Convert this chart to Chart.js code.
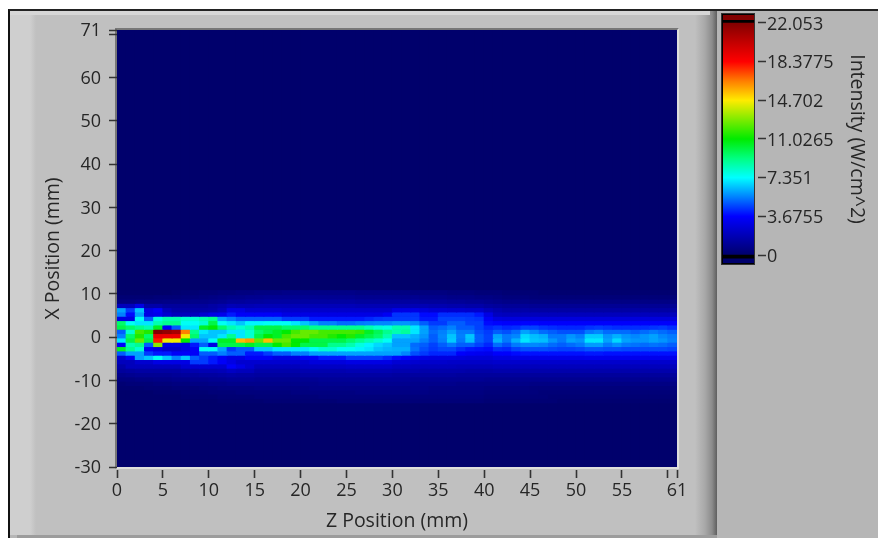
<!DOCTYPE html>
<html><head><meta charset="utf-8">
<script src="https://cdn.jsdelivr.net/npm/chart.js@4"></script>
<style>
html,body{margin:0;padding:0;background:#fff;overflow:hidden}
#wrap{position:relative;width:878px;height:538px;overflow:hidden;background:#fff}
.p{position:absolute}
canvas{position:absolute;left:0;top:0;filter:blur(.45px)}
</style></head><body>
<div id="wrap">
<div class="p" style="left:8px;top:9px;width:870px;height:529px;background:#b6b6b6;border-left:2px solid #111;border-top:2px solid #222;box-sizing:border-box"></div>
<div class="p" style="left:10px;top:11px;width:707px;height:524px;background:linear-gradient(90deg,#cfcfcf 0,#cfcfcf 20px,#c0c0c0 26px,#c0c0c0 685px,#a8a8a8 695px,#8c8c8c 702px,#5f5f5f 707px)"></div>
<div class="p" style="left:10px;top:11px;width:700px;height:4px;background:#d6d6d6"></div>
<div class="p" style="left:17px;top:535px;width:700px;height:3px;background:#9c9c9c"></div>
<div class="p" style="left:115px;top:28px;width:564px;height:441px;box-sizing:border-box;border:2px solid;border-color:#777 #ddd #ddd #777"></div>
<div class="p" style="left:721px;top:13px;width:34px;height:252px;box-sizing:border-box;background:#000;border:1px solid #333"></div>
<canvas id="main" width="878" height="538"></canvas>
<canvas id="bar" width="878" height="538"></canvas>
</div>
<script>
const zCount = 61;
const zTicks = [0,5,10,15,20,25,30,35,40,45,50,55,60,61];
const xTicks = [71,70,60,50,40,30,20,10,0,-10,-20,-30];
const scaleTicks = [22.053,18.3775,14.702,11.0265,7.351,3.6755,0];
const stopValues = [0,3.6755,5.5,7.351,9.2,11.0265,12.9,14.702,16.5,18.3775,20.2,22.053];
const stopColors = [[0,0,108],[0,0,255],[0,128,255],[0,255,255],[0,255,128],[0,235,0],[128,235,0],[255,235,0],[255,128,0],[255,0,0],[195,0,0],[130,0,0]];

const rowP10=[0,0,0,0,0,0,.1,.2,.2,.3,.3,.4,.4,.5,.5,.6,.6,.6,.7,.7,.7,.7,.7,.7,.7,.7,.6,.6,.6,.6,.6,.6,.5,.5,.5,.5,.4,.4,.4,.3,.3,.3,.2,.2,.2,.2,.1,.1,.1,.1,.1,.1,.1,.1,.1,.1,.1,.1,.1,.1,.1];
const rowP9=[.2,.2,.2,.2,.3,.3,.3,.4,.4,.5,.6,.7,.8,.8,.9,.9,1,1,1,1,1,1,1,1,1,1,.9,.9,.9,.9,.9,.9,.9,.8,.8,.8,.7,.7,.7,.6,.6,.5,.4,.4,.4,.3,.3,.3,.3,.3,.3,.3,.3,.3,.3,.3,.3,.3,.3,.3,.3];
const rowP8=[.5,.5,.6,.6,.6,.7,.7,.7,.8,.8,.9,1,1.2,1.2,1.3,1.3,1.4,1.4,1.4,1.4,1.4,1.4,1.4,1.4,1.4,1.4,1.3,1.3,1.3,1.3,1.3,1.3,1.3,1.2,1.2,1.2,1.1,1.1,1,1,.9,.8,.7,.7,.7,.6,.6,.6,.6,.6,.6,.6,.6,.6,.6,.6,.6,.6,.6,.6,.6];
const rowP7=[2,2,3,1.5,1.5,1.2,1.2,1.2,1.2,1.2,1.4,1.6,1.9,1.8,1.8,1.9,1.9,1.9,1.9,1.9,1.9,1.9,1.9,1.9,1.9,1.9,1.8,1.8,1.8,1.8,1.8,1.8,1.8,1.8,1.7,1.7,1.6,1.6,1.5,1.5,1.3,1.2,1.1,1.1,1.1,1,1,1,1,1,1,1,1,1,1,1,1,1,1,1,1];
const rowP6=[6,4.5,6.5,3,3.5,2,1.5,1.5,1.5,1.5,1.6,2,3,3,2.5,2.5,2.5,2.5,2.4,2.4,2.4,2.4,2.4,2.4,2.4,2.4,2.4,2.4,2.4,2.4,3,3,3,2.8,2.6,2.6,2.5,2.5,2.4,2.4,2,1.7,1.5,1.5,1.5,1.4,1.4,1.4,1.4,1.4,1.4,1.4,1.4,1.4,1.4,1.4,1.4,1.4,1.4,1.4,1.4];
const rowP5=[5.5,3.8,6,3,3.2,2.5,2,2,2,2.5,3,3.2,4,3.5,3.5,3.5,3.5,3.5,3,3,3,3,3,3,3,3,3,3,3,3.4,4.4,4.4,4.4,3.8,3.8,4.3,4.3,4.3,4.3,4,3,2.1,2,2,2,2,2,2,2,2,2,2,2,2,2,2,2,2,2,2,2];
const rowP4=[3,3,7.5,5,7.8,8.5,8.5,8,8,8.5,9,6,5.5,5,5,5,5,5,4.5,4.5,4.5,4,4,4,4,4,4,4.2,4.4,4.5,4.5,4.5,4.5,4,4,4.6,4.6,4.6,4.5,4.4,3.5,2.9,2.8,2.8,2.8,2.8,2.8,2.8,2.8,2.8,2.8,2.8,2.8,2.8,2.8,2.8,2.8,2.8,2.8,2.8,2.8];
const rowP3=[9.5,7.5,7,7,8.5,9,9,7.5,7.5,8,10,7.5,7,6.5,7.2,7.2,7.5,7.5,7.5,7,6.5,6,5.5,5.5,5.2,5.2,5.4,5.5,5.6,5.6,5.8,5.8,5.6,5,4.5,4.5,5,5,4.6,4.6,3.8,3.7,3.6,3.6,3.7,3.7,3.6,3.6,3.6,3.6,3.6,3.6,3.6,3.6,3.6,3.6,3.6,3.6,3.6,3.6,3.6];
const rowP2=[10,9.5,9,8.5,10.5,3.5,5,7,7,10.5,11,9.5,8.5,8,8.5,10,10,10,9.5,9.5,9.5,9,9,9,9,9,9,8.5,8,7.8,8.5,8.5,7,6,5,5.2,5.5,5,5,4.6,4.2,4.4,4.2,4.3,4.6,4.6,4.4,4.3,4.2,4.2,4.2,4.4,4.5,4.4,4.3,4.3,4.3,4.3,4.4,4.5,4.3];
const rowP1=[5,8,12,11.5,22,21.5,21,16.5,9,7,6.5,6.5,7,7,8,9.5,10,10.5,11,12,12.5,12.5,12,12,12,12,11.8,10.5,9.8,9,8.5,8.8,7,6,5.2,5.5,6,5.4,5.4,4.8,4.5,5,4.8,5.2,6,5.6,5.2,5,4.8,4.8,4.8,5.4,5.6,5.2,5.2,5.2,5,5.2,5.4,5.2,5];
const rowP0=[5.5,9.5,11.5,9.5,19,19,19,14.5,9.5,6.5,6.5,7,9,7,8,10,11,10.5,12,12.5,12.5,12,12,11.5,11,11.5,10.5,10,9.5,8.5,6.5,6.5,6.2,5.8,5,5.6,6.5,5.5,6.5,5,4.6,6,5.4,5.6,6.8,6.4,6.2,5.4,5.4,5.8,5.5,6.6,6.6,5.8,6.2,5.8,5.6,5.8,6,5.6,5.4];
const rowM1=[7,10,12.5,10,18,14.5,14.5,11,6,6,7.5,10.5,10.5,15.5,16,12.5,15.5,12.5,12.5,11,11,10,10,10,10,9.5,9,8.5,8,7.5,6,6,6,5.5,5,5.5,6.6,5.4,6.4,5,4.6,6.2,5.4,6.2,7,6.5,6.4,5.8,5.4,6,5.8,7,7,6,6.8,6,5.8,5.8,6,5.8,5.5];
const rowM2=[3.5,8.5,9,5,13,3,3,3,4,5,3,10,10,10,10.5,10,10,11,12,11,10,10,10,9,9,8.5,7.8,7.2,6.8,6.5,6,6,5.2,5,4.6,5,5.4,5,5,4.6,4.2,5.2,4.8,5.4,5.6,5.6,5.5,5.2,5,5.2,5.4,5.9,5.9,5.4,5.7,5.4,5.3,5.2,5.3,5.2,5];
const rowM3=[10.5,9,8,3.5,3,2.5,2.5,3,3.5,7.5,7.5,6,4.5,5,5,6.5,6.5,7,7,7,7,7.5,8,8,7.5,7.5,7.2,7,6.5,6.3,6.2,6.2,5.3,4.8,4.5,4.7,4.7,4.3,4,3.9,3.8,4.3,4.2,4.6,4.8,4.8,4.8,4.7,4.6,4.6,4.7,4.9,4.9,4.8,4.8,4.7,4.7,4.7,4.7,4.7,4.6];
const rowM4=[5,6,6,4.5,4,4,3.5,3.5,3.5,5,5,5.5,5,5,4,4,4.5,5,5,5.5,5.5,6,6,6,6,6,6,6,6,6,6,5.6,4.8,4.5,4.2,4.2,4.2,3.6,3.4,3.3,3.2,3.6,3.6,3.8,3.9,3.9,3.9,3.9,3.9,3.9,3.9,4,4,3.9,3.9,3.9,3.9,3.9,3.9,3.9,3.9];
const rowM5=[2.5,3.5,6,6.5,7.5,6.5,5.5,6.5,5,4.5,4,3.5,3,3,3.5,3.5,3.5,3,3,3,3.5,3.5,4,4,4,4.5,4.5,4.5,4.5,4.2,3.8,3.6,3.2,3,2.9,2.9,2.9,2.8,2.7,2.7,2.7,2.9,2.9,3,3,3.1,3.1,3.1,3.1,3.1,3.1,3.2,3.2,3.2,3.2,3.2,3.2,3.2,3.2,3.2,3.2];
const rowM6=[2,2,2.5,2.5,3,3,3,3,4.5,4.5,4,3.5,3,2.5,2.5,2.5,2.5,2.5,2.5,2.5,2.5,2.8,2.8,2.8,2.8,3,3,3,3,3,2.6,2.6,2.5,2.4,2.4,2.4,2.3,2.3,2.3,2.3,2.3,2.4,2.4,2.4,2.4,2.4,2.4,2.4,2.4,2.4,2.4,2.4,2.4,2.4,2.4,2.4,2.4,2.4,2.4,2.4,2.4];
const rowM7=[1.5,2,2,2,2,2,2,2.5,2.5,2.5,2.5,2.5,3.5,3,2.5,2,2,2,2,2,2.2,2.2,2.2,2.2,2.2,2.3,2.3,2.3,2.3,2.3,2.1,2.1,2,2,2,2,2,1.9,1.9,1.9,1.9,2,2,2,2,2,2,2,2,2,2,2,2,2,2,2,2,2,2,2,2];
const rowM8=[1.2,1.3,1.4,1.4,1.4,1.4,1.4,1.6,1.7,1.8,1.8,1.9,2.2,2,2,1.6,1.6,1.6,1.6,1.6,1.7,1.7,1.7,1.7,1.7,1.8,1.8,1.8,1.8,1.8,1.7,1.7,1.7,1.6,1.6,1.6,1.6,1.6,1.5,1.5,1.5,1.6,1.6,1.6,1.6,1.6,1.6,1.6,1.6,1.6,1.6,1.6,1.6,1.6,1.6,1.6,1.6,1.6,1.6,1.6,1.6];
const rowM9=[.8,.9,1,1,1,1,1.1,1.2,1.2,1.3,1.3,1.4,1.5,1.4,1.4,1.3,1.3,1.3,1.3,1.3,1.4,1.4,1.4,1.4,1.4,1.4,1.4,1.4,1.4,1.4,1.3,1.3,1.3,1.3,1.3,1.3,1.3,1.2,1.2,1.2,1.2,1.2,1.2,1.2,1.2,1.2,1.2,1.2,1.2,1.2,1.2,1.2,1.2,1.2,1.2,1.2,1.2,1.2,1.2,1.2,1.2];
const rowM10=[.5,.5,.6,.6,.7,.7,.8,.8,.9,.9,1,1,1.1,1.1,1.1,1,1,1,1,1,1,1,1.1,1.1,1.1,1.1,1.1,1.1,1.1,1.1,1.1,1.1,1,1,1,1,1,1,1,1,.9,.9,.9,.9,.9,.9,.9,.9,.9,.9,.9,.9,.9,.9,.9,.9,.9,.9,.9,.9,.9];
const rowM11=[.2,.3,.3,.3,.4,.4,.5,.5,.6,.6,.7,.7,.8,.8,.8,.8,.8,.8,.8,.8,.8,.8,.9,.9,.9,.9,.9,.9,.9,.9,.9,.9,.8,.8,.8,.8,.8,.7,.7,.7,.7,.7,.7,.7,.7,.6,.6,.6,.6,.6,.6,.6,.6,.6,.6,.6,.6,.6,.6,.6,.6];
const rowM12=[.1,.1,.1,.2,.2,.2,.3,.3,.3,.4,.4,.5,.5,.5,.5,.6,.6,.6,.6,.6,.6,.7,.7,.7,.7,.7,.7,.7,.7,.7,.7,.7,.7,.7,.6,.6,.6,.6,.6,.6,.5,.5,.5,.5,.5,.4,.4,.4,.4,.4,.4,.4,.4,.4,.4,.4,.4,.4,.4,.4,.4];
const rowM13=[0,0,0,0,.1,.1,.1,.2,.2,.2,.3,.3,.3,.4,.4,.4,.4,.4,.4,.5,.5,.5,.5,.5,.5,.5,.6,.6,.6,.6,.6,.6,.6,.6,.5,.5,.5,.5,.5,.5,.4,.4,.4,.4,.4,.4,.3,.3,.3,.3,.3,.3,.3,.3,.3,.3,.3,.3,.3,.3,.3];
const rowM14=[0,0,0,0,0,0,0,.1,.1,.1,.1,.2,.2,.2,.2,.3,.3,.3,.3,.3,.3,.3,.4,.4,.4,.4,.4,.4,.4,.4,.4,.4,.4,.4,.4,.4,.4,.4,.4,.4,.3,.3,.3,.3,.3,.3,.3,.2,.2,.2,.2,.2,.2,.2,.2,.2,.2,.2,.2,.2,.2];
const rowM15=[0,0,0,0,0,0,0,0,0,0,0,.1,.1,.1,.1,.1,.2,.2,.2,.2,.2,.2,.2,.2,.3,.3,.3,.3,.3,.3,.3,.3,.3,.3,.3,.3,.3,.3,.3,.3,.2,.2,.2,.2,.2,.2,.2,.2,.1,.1,.1,.1,.1,.1,.1,.1,.1,.1,.1,.1,.1];

const rowPositions=[10,9,8,7,6,5,4,3,2,1,0,-1,-2,-3,-4,-5,-6,-7,-8,-9,-10,-11,-12,-13,-14,-15];
const rowValues=[rowP10,rowP9,rowP8,rowP7,rowP6,rowP5,rowP4,rowP3,rowP2,rowP1,rowP0,rowM1,rowM2,rowM3,rowM4,rowM5,rowM6,rowM7,rowM8,rowM9,rowM10,rowM11,rowM12,rowM13,rowM14,rowM15];

function colorOf(v){
  let i=0; while(i<stopValues.length-2 && v>stopValues[i+1]) i++;
  const t=Math.min(1,Math.max(0,(v-stopValues[i])/(stopValues[i+1]-stopValues[i])));
  const a=stopColors[i],b=stopColors[i+1];
  return `rgb(${a.map((c,k)=>Math.round(c+(b[k]-c)*t)).join(',')})`;
}
const tickFont={family:'"Open Sans"',size:18};
const titleFont={family:'"Open Sans"',size:19.5};
const ink='#262626';
const cellDatasets=rowPositions.map((pos,r)=>({
  data:rowValues[r].map((v,i)=>({x:i+.5,y:[pos-.2,pos+.8]})),
  backgroundColor:rowValues[r].map(colorOf),
  borderWidth:0,barThickness:9.6,grouped:false,order:r
}));
const baseCols=Array.from({length:zCount},(_,i)=>({x:i+.5,y:[-30,71]}));
new Chart(document.getElementById('main'),{
  type:'bar',
  data:{datasets:[{data:baseCols,backgroundColor:colorOf(0),borderWidth:0,barThickness:9.6,grouped:false,order:99},...cellDatasets]},
  options:{responsive:false,animation:false,devicePixelRatio:1,
    layout:{autoPadding:false,padding:{left:42,top:30,right:201,bottom:0}},
    plugins:{legend:{display:false},tooltip:{enabled:false}},
    datasets:{bar:{barPercentage:1,categoryPercentage:1}},
    scales:{
      x:{type:'linear',min:0,max:61,offset:false,
        afterFit(s){s.height=71},
        afterBuildTicks(s){s.ticks=zTicks.map(value=>({value}))},
        border:{display:false},
        grid:{offset:false,drawOnChartArea:false,tickLength:11,tickWidth:1.6,tickColor:'#333',tickBorderDash:[0,3,8,100]},
        ticks:{autoSkip:false,maxRotation:0,minRotation:0,padding:2,color:ink,font:tickFont,callback:v=>v===60?'':String(v)},
        title:{display:true,text:'Z Position (mm)',color:ink,font:titleFont,padding:{top:0,bottom:5}}},
      y:{type:'linear',min:-30,max:71,
        afterFit(s){s.width=75},
        afterBuildTicks(s){s.ticks=xTicks.map(value=>({value}))},
        border:{display:false},
        grid:{drawOnChartArea:false,tickLength:11,tickWidth:1.6,tickColor:'#333',tickBorderDash:[0,3,8,100]},
        ticks:{autoSkip:false,padding:5,labelOffset:1,color:ink,font:tickFont,callback:v=>v===70?'':String(v)},
        title:{display:true,text:'X Position (mm)',color:ink,font:titleFont,padding:0}}
    }
  }
});
new Chart(document.getElementById('bar'),{
  type:'bar',
  data:{labels:['scale'],datasets:[
    {data:[[0,22.053]],order:1,backgroundColor(c){
      const ch=c.chart,y=ch.scales.y; if(!y||!ch.chartArea) return '#000';
      const y0=y.getPixelForValue(0),y1=y.getPixelForValue(22.053);
      const g=ch.ctx.createLinearGradient(0,y0,0,y1);
      stopValues.forEach((v,i)=>g.addColorStop(v/22.053,`rgb(${stopColors[i].join(',')})`));
      return g;}},
    {data:[[22.053,22.3]],backgroundColor:'#000',order:2},
    {data:[[22.3,22.85]],backgroundColor:'rgb(130,0,0)',order:3},
    {data:[[-.3,0]],backgroundColor:'#000',order:4},
    {data:[[-.76,-.3]],backgroundColor:'rgb(0,0,108)',order:5}
  ]},
  options:{responsive:false,animation:false,devicePixelRatio:1,
    layout:{autoPadding:false,padding:{left:723,top:15,right:10,bottom:275}},
    plugins:{legend:{display:false},tooltip:{enabled:false}},
    datasets:{bar:{barPercentage:1,categoryPercentage:1,grouped:false,borderWidth:0}},
    scales:{
      x:{display:false},
      y:{type:'linear',position:'right',min:-.76,max:22.81,
        afterFit(s){s.width=114},
        afterBuildTicks(s){s.ticks=scaleTicks.map(value=>({value}))},
        border:{display:false},
        grid:{drawOnChartArea:false,tickLength:12,tickWidth:1.6,tickColor:'#333',tickBorderDash:[0,4,8,100]},
        ticks:{autoSkip:false,padding:1,labelOffset:1.5,color:ink,font:tickFont,callback:v=>String(v)},
        title:{display:true,text:'Intensity (W/cm^2)',color:ink,font:titleFont,padding:0}}
    }
  }
});
</script>
</body></html>
